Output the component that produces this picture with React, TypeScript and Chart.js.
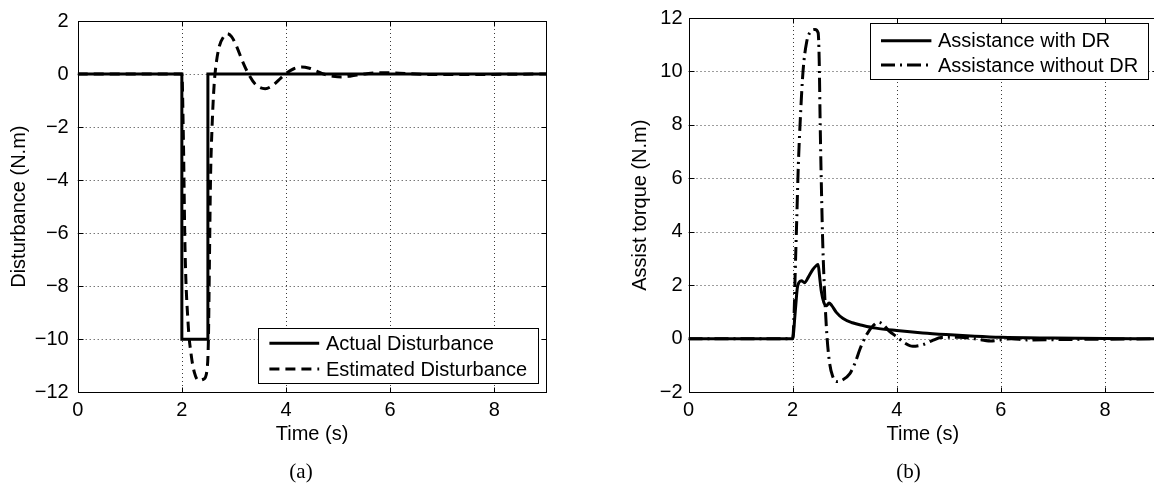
import React, { useEffect, useRef } from 'react';
import { Chart, registerables } from 'chart.js';
Chart.register(...registerables);

// ---------- data ----------
const xTicks = [0, 2, 4, 6, 8];
const yTicksA = [-12, -10, -8, -6, -4, -2, 0, 2];
const yTicksB = [-2, 0, 2, 4, 6, 8, 10, 12];

const labelsA = ['Actual Disturbance', 'Estimated Disturbance'];
const labelsB = ['Assistance with DR', 'Assistance without DR'];

const actualT = [0, 2, 2, 2.5, 2.5, 9];
const actualV = [0, 0, -10, -10, 0, 0];

const estT = [0, 2.0, 2.03, 2.06, 2.12, 2.18, 2.24, 2.32, 2.42, 2.48, 2.51, 2.53, 2.55, 2.58, 2.62, 2.66, 2.72, 2.8, 2.87, 2.95, 3.05, 3.15, 3.28, 3.42, 3.6, 3.75, 3.9, 4.02, 4.15, 4.3, 4.45, 4.6, 4.72, 4.9, 5.07, 5.25, 5.5, 5.8, 6.1, 6.5, 7.0, 9];
const estV = [0, 0, -2.5, -6.5, -9.4, -10.6, -11.25, -11.55, -11.5, -11.2, -10.0, -7.0, -4.0, -2.0, -0.4, 0.4, 1.05, 1.4, 1.52, 1.42, 1.05, 0.55, 0.0, -0.4, -0.55, -0.42, -0.15, 0.05, 0.2, 0.27, 0.22, 0.1, 0.0, -0.08, -0.11, -0.07, 0.0, 0.05, 0.04, 0.0, -0.02, 0];

const withT = [0, 2.0, 2.05, 2.09, 2.12, 2.17, 2.23, 2.3, 2.39, 2.46, 2.49, 2.52, 2.55, 2.6, 2.65, 2.7, 2.75, 2.84, 2.97, 3.15, 3.35, 3.6, 4.0, 4.5, 4.95, 5.5, 6.0, 7.0, 8.0, 9];
const withV = [0, 0, 1.0, 1.9, 2.1, 2.17, 2.1, 2.3, 2.6, 2.75, 2.78, 2.3, 1.8, 1.36, 1.24, 1.34, 1.25, 0.99, 0.76, 0.6, 0.5, 0.4, 0.31, 0.22, 0.16, 0.1, 0.06, 0.03, 0.01, 0];

const withoutT = [0, 2.0, 2.03, 2.05, 2.08, 2.11, 2.15, 2.2, 2.27, 2.35, 2.43, 2.49, 2.51, 2.53, 2.555, 2.58, 2.62, 2.66, 2.71, 2.77, 2.84, 2.95, 3.1, 3.2, 3.3, 3.42, 3.55, 3.65, 3.73, 3.85, 4.02, 4.15, 4.31, 4.5, 4.7, 4.85, 5.2, 5.5, 5.8, 6.2, 6.5, 7.5, 9];
const withoutV = [0, 0, 1.0, 2.5, 4.5, 6.5, 8.3, 10.0, 11.1, 11.5, 11.57, 11.45, 10.5, 8.0, 5.5, 3.5, 1.5, 0.1, -0.9, -1.4, -1.6, -1.55, -1.3, -0.9, -0.35, 0.15, 0.5, 0.62, 0.55, 0.3, 0.05, -0.15, -0.28, -0.22, -0.05, 0.05, 0.06, 0.0, -0.08, 0.0, -0.04, -0.02, 0];

// ---------- helpers ----------
const FONT = "'Liberation Sans', Arial, Helvetica, sans-serif";
const pts = (t: number[], v: number[]) => t.map((x, i) => ({ x, y: v[i] }));
const fmt = (v: number) => (v < 0 ? '\u2212' + Math.abs(v) : String(v));

const framePlugin = {
  id: 'matlabFrame',
  beforeDatasetsDraw(chart: any) {
    const { ctx, chartArea: a, scales } = chart;
    ctx.save();
    ctx.strokeStyle = '#3a3a3a';
    ctx.lineWidth = 1;
    ctx.setLineDash([1, 3]);
    scales.x.ticks.forEach((t: any) => {
      const px = Math.round(scales.x.getPixelForValue(t.value)) + 0.5;
      if (px <= a.left + 1 || px >= a.right - 1) return;
      ctx.beginPath();
      ctx.moveTo(px, a.top);
      ctx.lineTo(px, a.bottom);
      ctx.stroke();
    });
    scales.y.ticks.forEach((t: any) => {
      const py = Math.round(scales.y.getPixelForValue(t.value)) + 0.5;
      if (py <= a.top + 1 || py >= a.bottom - 1) return;
      ctx.beginPath();
      ctx.moveTo(a.left, py);
      ctx.lineTo(a.right, py);
      ctx.stroke();
    });
    ctx.restore();
  },
  afterDatasetsDraw(chart: any) {
    const { ctx, chartArea: a, scales } = chart;
    ctx.save();
    ctx.strokeStyle = '#000';
    ctx.lineWidth = 1;
    ctx.setLineDash([]);
    const L = Math.round(a.left) + 0.5, R = Math.round(a.right) + 0.5;
    const T = Math.round(a.top) + 0.5, B = Math.round(a.bottom) + 0.5;
    ctx.strokeRect(L, T, R - L, B - T);
    const tl = 5;
    ctx.beginPath();
    scales.x.ticks.forEach((t: any) => {
      const px = Math.round(scales.x.getPixelForValue(t.value)) + 0.5;
      ctx.moveTo(px, B); ctx.lineTo(px, B - tl);
      ctx.moveTo(px, T); ctx.lineTo(px, T + tl);
    });
    scales.y.ticks.forEach((t: any) => {
      const py = Math.round(scales.y.getPixelForValue(t.value)) + 0.5;
      ctx.moveTo(L, py); ctx.lineTo(L + tl, py);
      ctx.moveTo(R, py); ctx.lineTo(R - tl, py);
    });
    ctx.stroke();
    ctx.restore();
  },
  afterDraw(chart: any, _args: any, opts: any) {
    const lg = opts && opts.legend;
    if (!lg) return;
    const { ctx } = chart;
    ctx.save();
    ctx.fillStyle = '#fff';
    ctx.fillRect(lg.x, lg.y, lg.w, lg.h);
    ctx.strokeStyle = '#000';
    ctx.lineWidth = 1;
    ctx.setLineDash([]);
    ctx.strokeRect(Math.round(lg.x) + 0.5, Math.round(lg.y) + 0.5, Math.round(lg.w), Math.round(lg.h));
    chart.data.datasets.forEach((ds: any, i: number) => {
      const ry = lg.rows[i];
      ctx.strokeStyle = ds.borderColor;
      ctx.lineWidth = ds.borderWidth;
      ctx.setLineDash(ds.borderDash || []);
      ctx.beginPath();
      ctx.moveTo(lg.l0, ry);
      ctx.lineTo(lg.l1, ry);
      ctx.stroke();
      ctx.setLineDash([]);
      ctx.fillStyle = '#000';
      ctx.font = `20px ${FONT}`;
      ctx.textBaseline = 'middle';
      ctx.textAlign = 'left';
      ctx.fillText(ds.label, lg.tx, ry + 1);
    });
    ctx.restore();
  },
};

function makeConfig(
  datasets: any[],
  yMin: number, yMax: number, yTicks: number[], yTitle: string,
  geo: { yW: number; right: number; yTitlePad: number; yTickPad: number },
  legend: any
): any {
  return {
    type: 'line',
    data: { datasets },
    options: {
      responsive: false,
      animation: false,
      events: [],
      layout: { padding: { left: 0, top: 15, right: geo.right, bottom: 0 } },
      elements: { point: { radius: 0 }, line: { tension: 0 } },
      plugins: {
        legend: { display: false },
        tooltip: { enabled: false },
        matlabFrame: { legend },
      },
      scales: {
        x: {
          type: 'linear',
          min: 0,
          max: 9,
          afterBuildTicks: (s: any) => { s.ticks = xTicks.map((v) => ({ value: v })); },
          afterFit: (s: any) => { s.height = 95.7; },
          grid: { display: false, drawTicks: false },
          border: { display: false },
          ticks: { color: '#000', font: { family: FONT, size: 20 }, padding: 6, maxRotation: 0, autoSkip: false, callback: (v: number) => fmt(v) },
          title: { display: true, text: 'Time (s)', color: '#000', font: { family: FONT, size: 20 }, padding: { top: 0, bottom: 42 } },
        },
        y: {
          type: 'linear',
          min: yMin,
          max: yMax,
          afterBuildTicks: (s: any) => { s.ticks = yTicks.map((v) => ({ value: v })); },
          afterFit: (s: any) => { s.width = geo.yW; },
          grid: { display: false, drawTicks: false },
          border: { display: false },
          ticks: { color: '#000', font: { family: FONT, size: 20 }, padding: geo.yTickPad, autoSkip: false, callback: (v: number) => fmt(v) },
          title: { display: true, text: yTitle, color: '#000', font: { family: FONT, size: 20 }, padding: { top: geo.yTitlePad, bottom: 0 } },
        },
      },
    },
    plugins: [framePlugin],
  };
}

function ChartCanvas({ config, width, height }: { config: () => any; width: number; height: number }) {
  const ref = useRef<HTMLCanvasElement | null>(null);
  useEffect(() => {
    if (!ref.current) return;
    const c = new Chart(ref.current, config());
    return () => c.destroy();
  }, []);
  return <canvas ref={ref} width={width} height={height} style={{ display: 'block', width, height }} />;
}

export default function App() {
  const cfgA = () =>
    makeConfig(
      [
        { label: labelsA[0], data: pts(actualT, actualV), borderColor: '#000', borderWidth: 3, borderDash: [], fill: false },
        { label: labelsA[1], data: pts(estT, estV), borderColor: '#000', borderWidth: 3, borderDash: [10, 6], fill: false, cubicInterpolationMode: 'monotone' },
      ],
      -12, 2, yTicksA, 'Disturbance (N.m)',
      { yW: 77.7, right: 577 - 546.4, yTitlePad: 7, yTickPad: 9 },
      { x: 258.4, y: 328, w: 279.5, h: 55.3, l0: 269.4, l1: 319.2, tx: 325.9, rows: [343.3, 369] }
    );
  const cfgB = () =>
    makeConfig(
      [
        { label: labelsB[0], data: pts(withT, withV), borderColor: '#000', borderWidth: 3, borderDash: [], fill: false, cubicInterpolationMode: 'monotone' },
        { label: labelsB[1], data: pts(withoutT, withoutV), borderColor: '#000', borderWidth: 3, borderDash: [14, 5, 2, 5], fill: false, cubicInterpolationMode: 'monotone' },
      ],
      -2, 12, yTicksB, 'Assist torque (N.m)',
      { yW: 111.5, right: 620 - 580, yTitlePad: 51.5, yTickPad: 6 },
      { x: 869.9 - 577, y: 23.3, w: 278.3, h: 56, l0: 881 - 577, l1: 931.4 - 577, tx: 938 - 577, rows: [40.7, 65] }
    );
  const cap: React.CSSProperties = {
    position: 'absolute',
    top: 471,
    transform: 'translate(-50%, -50%)',
    fontFamily: "'Liberation Serif', 'Times New Roman', serif",
    fontSize: 21,
    lineHeight: 1,
    color: '#000',
    whiteSpace: 'nowrap',
  };
  return (
    <div style={{ position: 'fixed', left: 0, top: 0, width: 1154, height: 488, overflow: 'hidden', background: '#fff' }}>
      <div style={{ position: 'absolute', left: 0, top: 0 }}>
        <ChartCanvas config={cfgA} width={577} height={488} />
      </div>
      <div style={{ position: 'absolute', left: 577, top: 0 }}>
        <ChartCanvas config={cfgB} width={620} height={488} />
      </div>
      <div style={{ ...cap, left: 301 }}>(a)</div>
      <div style={{ ...cap, left: 908.5 }}>(b)</div>
    </div>
  );
}
